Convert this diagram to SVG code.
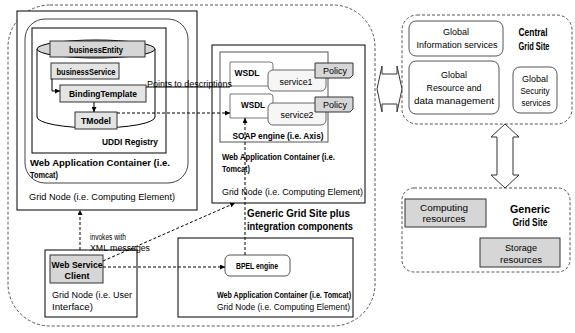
<svg xmlns="http://www.w3.org/2000/svg" width="575" height="333" viewBox="0 0 575 333">
<style>
text{font-family:"Liberation Sans",Arial,sans-serif;font-size:8.5px;fill:#000}
.b{font-weight:bold}
.big{font-weight:bold;font-size:11.5px}
.mid{font-weight:bold;font-size:10.5px}
.c{text-anchor:middle}
.box{fill:#fff;stroke:#000;stroke-width:1}
.dash{fill:none;stroke:#555;stroke-width:1;stroke-dasharray:3,2}
.gray{fill:#d6d6d6;stroke:#333;stroke-width:1}
.lgray{fill:#e4e4e4;stroke:#333;stroke-width:1}
.rnd{fill:#fff;stroke:#555;stroke-width:1}
.conn{fill:none;stroke:#000;stroke-width:1}
.dconn{fill:none;stroke:#000;stroke-width:1;stroke-dasharray:3,2}
.dbl{fill:#fff;stroke:#333;stroke-width:1}
</style>
<defs>
<marker id="ah" viewBox="0 0 10 10" refX="10" refY="5" markerWidth="5" markerHeight="5" orient="auto">
<path d="M0,0 L10,5 L0,10 z" fill="#000"/>
</marker>
</defs>

<g id="connectors-bg">
<path d="M377,89 L382,66 L382,74 L397,74 L397,66 L402,89 L397,112 L397,104 L382,104 L382,112 z" class="dbl"/>
</g>

<g id="generic-site-plus">
<rect x="8" y="5" width="367" height="321" rx="42" ry="42" class="dash"/>
<text class="big" x="247" y="217" textLength="103" lengthAdjust="spacingAndGlyphs">Generic Grid Site plus</text>
<text class="big" x="247" y="230" textLength="106" lengthAdjust="spacingAndGlyphs">integration components</text>
</g>

<g id="grid-node-uddi">
<rect x="17" y="11" width="180" height="199" class="box"/>
<rect x="25" y="19" width="163" height="164" rx="20" ry="20" fill="#fff" stroke="#444"/>
<text class="b" x="30" y="166" textLength="140" lengthAdjust="spacingAndGlyphs">Web Application Container (i.e.</text>
<text class="b" x="30" y="178" textLength="28" lengthAdjust="spacingAndGlyphs">Tomcat)</text>
<text x="29" y="200" textLength="146" lengthAdjust="spacingAndGlyphs">Grid Node (i.e. Computing Element)</text>
</g>

<g id="uddi-registry">
<rect x="32" y="28" width="134" height="125" class="box"/>
<path d="M37,49 L37,117 A59,11 0 0 0 155,117 L155,49" fill="#fff" stroke="#000"/>
<ellipse cx="96" cy="49" rx="59" ry="9" fill="#d6d6d6" stroke="#000"/>
<text class="b" x="158" y="145" text-anchor="end" textLength="56" lengthAdjust="spacingAndGlyphs">UDDI Registry</text>
</g>

<g id="businessEntity">
<rect x="50" y="41" width="95" height="16" class="gray"/>
<text class="b c" x="96" y="53" textLength="54" lengthAdjust="spacingAndGlyphs">businessEntity</text>
</g>
<g id="businessService">
<rect x="51" y="63" width="68" height="16" class="lgray"/>
<text class="b c" x="86" y="75" textLength="59" lengthAdjust="spacingAndGlyphs">businessService</text>
</g>
<g id="BindingTemplate">
<rect x="60" y="85" width="86" height="17" class="lgray"/>
<text class="b c" x="103" y="97" textLength="68" lengthAdjust="spacingAndGlyphs">BindingTemplate</text>
</g>
<g id="TModel">
<rect x="75" y="112" width="42" height="17" class="lgray"/>
<text class="b c" x="96" y="124" textLength="30" lengthAdjust="spacingAndGlyphs">TModel</text>
</g>

<g id="grid-node-soap">
<rect x="212" y="45" width="153" height="158" class="box"/>
<text class="b" x="222" y="160" textLength="113" lengthAdjust="spacingAndGlyphs">Web Application Container (i.e.</text>
<text class="b" x="222" y="172" textLength="28" lengthAdjust="spacingAndGlyphs">Tomcat)</text>
<text x="222" y="195" textLength="141" lengthAdjust="spacingAndGlyphs">Grid Node (i.e. Computing Element)</text>
</g>
<g id="soap-engine">
<rect x="220" y="52" width="108" height="90" fill="#fff" stroke="#555"/>
<text class="b c" x="278" y="139" textLength="91" lengthAdjust="spacingAndGlyphs">SOAP engine (i.e. Axis)</text>
</g>
<g id="wsdl1">
<path d="M230,62 L270,62 Q273,62 273,65 L273,86 L230,86 z" fill="#fff" stroke="#777"/>
<text class="b c" x="247" y="76" textLength="25" lengthAdjust="spacingAndGlyphs">WSDL</text>
</g>
<g id="wsdl2">
<path d="M230,94 L270,94 Q273,94 273,97 L273,118 L230,118 z" fill="#fff" stroke="#777"/>
<text class="b c" x="253" y="108" textLength="24" lengthAdjust="spacingAndGlyphs">WSDL</text>
</g>
<g id="service1">
<rect x="268" y="70" width="58" height="21" rx="5" ry="5" fill="#f6f6f6" stroke="#666"/>
<text class="c" x="296" y="85" textLength="33" lengthAdjust="spacingAndGlyphs">service1</text>
</g>
<g id="service2">
<rect x="268" y="103" width="58" height="22" rx="5" ry="5" fill="#f6f6f6" stroke="#666"/>
<text class="c" x="297" y="118" textLength="33" lengthAdjust="spacingAndGlyphs">service2</text>
</g>
<g id="policy1">
<path d="M315,63 L353,63 L353,75 L350,78 L315,78 z" class="gray"/>
<text class="c" x="335" y="74" textLength="24" lengthAdjust="spacingAndGlyphs">Policy</text>
</g>
<g id="policy2">
<path d="M315,97 L353,97 L353,109 L350,112 L315,112 z" class="gray"/>
<text class="c" x="335" y="108" textLength="24" lengthAdjust="spacingAndGlyphs">Policy</text>
</g>

<g id="grid-node-user">
<rect x="45" y="250" width="92" height="67" class="box"/>
<text x="52" y="298" textLength="80" lengthAdjust="spacingAndGlyphs">Grid Node (i.e. User</text>
<text x="52" y="310" textLength="41" lengthAdjust="spacingAndGlyphs">Interface)</text>
</g>
<g id="web-service-client">
<rect x="50" y="255" width="53" height="28" class="gray"/>
<text class="b c" x="77" y="268" textLength="51" lengthAdjust="spacingAndGlyphs">Web Service</text>
<text class="b c" x="77" y="279" textLength="25" lengthAdjust="spacingAndGlyphs">Client</text>
</g>

<g id="grid-node-bpel">
<rect x="178" y="238" width="175" height="79" class="box"/>
<text class="b" x="217" y="298" textLength="134" lengthAdjust="spacingAndGlyphs">Web Application Container (i.e. Tomcat)</text>
<text x="217" y="310" textLength="133" lengthAdjust="spacingAndGlyphs">Grid Node (i.e. Computing Element)</text>
</g>
<g id="bpel-engine">
<rect x="225" y="255" width="65" height="21" rx="5" ry="5" class="rnd"/>
<text class="b c" x="257" y="269" textLength="42" lengthAdjust="spacingAndGlyphs">BPEL engine</text>
</g>

<g id="central-site">
<rect x="402" y="15" width="170" height="109" rx="15" ry="15" class="dash"/>
<text class="mid c" x="533" y="36" textLength="29" lengthAdjust="spacingAndGlyphs">Central</text>
<text class="mid c" x="534" y="50" textLength="31" lengthAdjust="spacingAndGlyphs">Grid Site</text>
</g>
<g id="global-info">
<rect x="409" y="21" width="94" height="35" rx="7" ry="7" class="rnd"/>
<text class="c" x="456" y="35" textLength="26" lengthAdjust="spacingAndGlyphs">Global</text>
<text class="c" x="457" y="48" textLength="81" lengthAdjust="spacingAndGlyphs">Information services</text>
</g>
<g id="global-resource">
<rect x="409" y="61" width="90" height="53" rx="7" ry="7" class="rnd"/>
<text class="c" x="454" y="78" textLength="26" lengthAdjust="spacingAndGlyphs">Global</text>
<text class="c" x="454" y="91" textLength="55" lengthAdjust="spacingAndGlyphs">Resource and</text>
<text class="c" x="454" y="104" textLength="80" lengthAdjust="spacingAndGlyphs">data management</text>
</g>
<g id="global-security">
<rect x="513" y="67" width="44" height="46" rx="7" ry="7" class="rnd"/>
<text class="c" x="535" y="82" textLength="26" lengthAdjust="spacingAndGlyphs">Global</text>
<text class="c" x="535" y="94" textLength="29" lengthAdjust="spacingAndGlyphs">Security</text>
<text class="c" x="536" y="106" textLength="29" lengthAdjust="spacingAndGlyphs">services</text>
</g>

<g id="generic-site">
<rect x="402" y="188" width="168" height="84" rx="12" ry="12" class="dash"/>
<text class="mid c" x="530" y="213" textLength="40" lengthAdjust="spacingAndGlyphs">Generic</text>
<text class="mid c" x="530" y="226" textLength="35" lengthAdjust="spacingAndGlyphs">Grid Site</text>
</g>
<g id="computing-resources">
<rect x="405" y="199" width="81" height="28" class="gray"/>
<text class="c" x="444" y="211" textLength="48" lengthAdjust="spacingAndGlyphs">Computing</text>
<text class="c" x="444" y="222" textLength="43" lengthAdjust="spacingAndGlyphs">resources</text>
</g>
<g id="storage-resources">
<rect x="480" y="238" width="80" height="29" class="gray"/>
<text class="c" x="521" y="251" textLength="32" lengthAdjust="spacingAndGlyphs">Storage</text>
<text class="c" x="521" y="263" textLength="42" lengthAdjust="spacingAndGlyphs">resources</text>
</g>

<g id="connectors">
<path d="M52,79 L52,91 L60,91" class="conn" marker-end="url(#ah)"/>
<path d="M94,102 L94,112" class="conn" marker-end="url(#ah)"/>
<path d="M146,87 L230,87" class="conn"/>
<text x="147" y="87" textLength="85" lengthAdjust="spacingAndGlyphs">Points to descriptions</text>
<path d="M117,113 L230,113" class="dconn" marker-end="url(#ah)"/>
<path d="M245,255 L245,118" class="dconn" marker-end="url(#ah)"/>
<path d="M80,250 L80,210" class="dconn" marker-end="url(#ah)"/>
<path d="M103,261 L235,203" class="dconn" marker-end="url(#ah)"/>
<path d="M103,267 L225,267" class="dconn" marker-end="url(#ah)"/>
<text x="90" y="240" textLength="36" lengthAdjust="spacingAndGlyphs">invokes with</text>
<text x="90" y="251" textLength="60" lengthAdjust="spacingAndGlyphs">XML messages</text>
<path d="M505,124 L519,137 L513,137 L513,175 L519,175 L505,188 L491,175 L497,175 L497,137 L491,137 z" class="dbl"/>
</g>
</svg>
